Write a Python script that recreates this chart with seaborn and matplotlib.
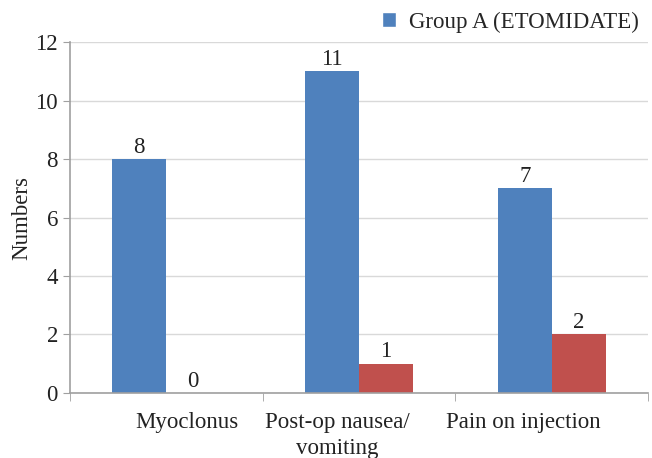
import pandas as pd
import matplotlib.pyplot as plt
import matplotlib.transforms as mtransforms
import seaborn as sns
from matplotlib.patches import Patch

# Data
categories = ['Myoclonus', 'Post-op nausea/\nvomiting', 'Pain on injection']
group_a = [8, 11, 7]
group_b = [0, 1, 2]
group_names = ['Group A (ETOMIDATE)', 'Group B']
colors = ['#4F81BD', '#C0504D']

df = pd.DataFrame({
    'category': categories * 2,
    'value': group_a + group_b,
    'group': [group_names[0]] * 3 + [group_names[1]] * 3,
})

sns.set_style('white')
plt.rcParams['font.family'] = ['Liberation Serif', 'DejaVu Serif']

fs = 16.5
fig = plt.figure(figsize=(6.52, 4.58), dpi=100)
ax = fig.add_axes([0.107, 0.142, 0.887, 0.766])

sns.barplot(data=df, x='category', y='value', hue='group', palette=colors,
            width=0.56, saturation=1, linewidth=0, ax=ax, legend=False)

for cont in ax.containers:
    ax.bar_label(cont, fmt='%d', fontsize=fs, padding=1, color='#222222')

ax.set_ylim(0, 12)
ax.set_yticks(range(0, 13, 2))
ax.set_xlim(-0.5, 2.5)
ax.yaxis.grid(True, color='#d9d9d9', linewidth=1)
ax.set_axisbelow(True)

for side in ['top', 'right']:
    ax.spines[side].set_visible(False)
for side in ['left', 'bottom']:
    ax.spines[side].set_color('#a0a0a0')
    ax.spines[side].set_linewidth(1.2)

ax.set_xlabel('')
ax.set_ylabel('Numbers', fontsize=fs, color='#222222', labelpad=2)
ax.tick_params(axis='y', labelsize=fs, colors='#222222', length=5, color='#a0a0a0', left=True)
ax.tick_params(axis='x', labelsize=fs, colors='#222222', length=0, pad=14)
ax.set_xticks([-0.5, 0.5, 1.5, 2.5], minor=True)
ax.tick_params(axis='x', which='minor', length=6, color='#a0a0a0', bottom=True)

# the original's category labels sit a little off-centre
shifts = [21, -22, -28]
for lbl, dx in zip(ax.get_xticklabels(), shifts):
    lbl.set_linespacing(1.3)
    lbl.set_transform(lbl.get_transform() + mtransforms.ScaledTranslation(dx / 100, 0, fig.dpi_scale_trans))

handles = [Patch(facecolor=colors[0])]
fig.legend(handles, [group_names[0]], loc='upper right', bbox_to_anchor=(1.012, 1.02),
           frameon=False, fontsize=fs, handlelength=0.6, handleheight=0.6, handletextpad=0.6)

fig.savefig('out.png', dpi=100)
